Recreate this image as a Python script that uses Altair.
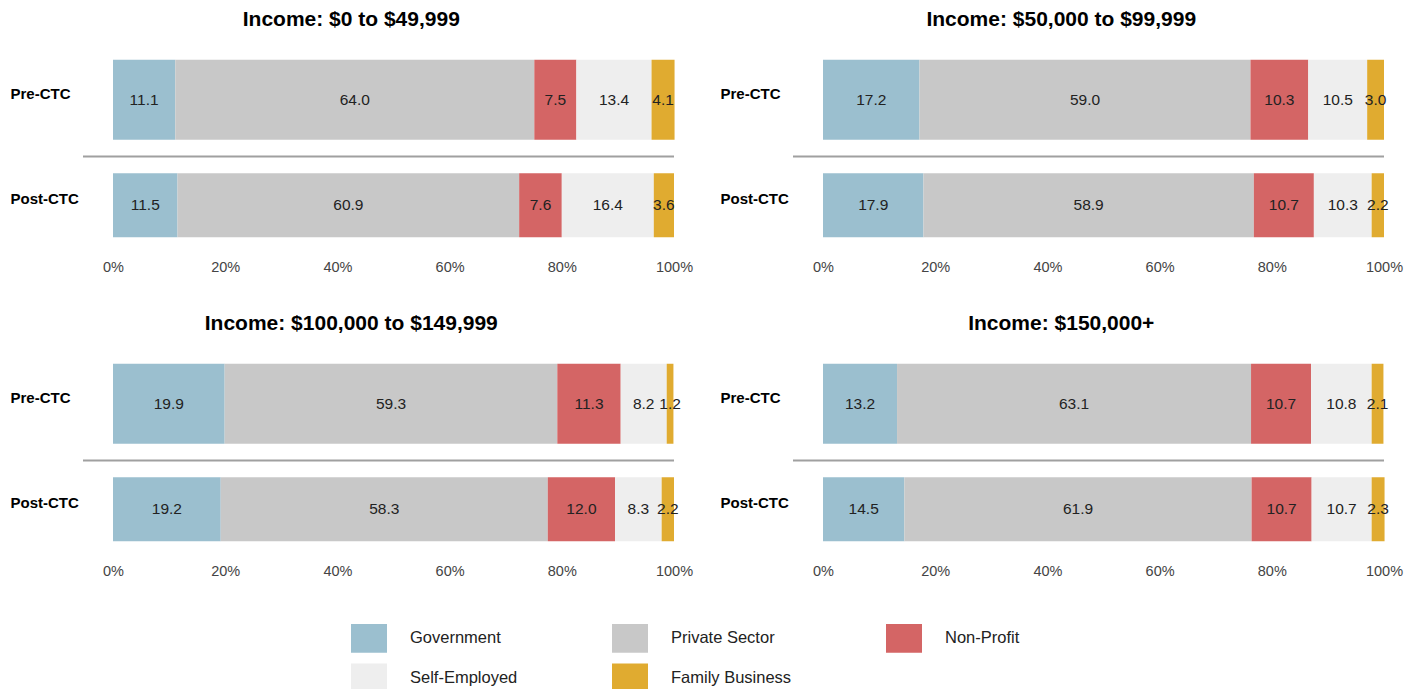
import altair as alt
import pandas as pd

incomes = [
    "Income: $0 to $49,999",
    "Income: $50,000 to $99,999",
    "Income: $100,000 to $149,999",
    "Income: $150,000+",
]
periods = ["Pre-CTC", "Post-CTC"]
sectors = ["Government", "Private Sector", "Non-Profit", "Self-Employed", "Family Business"]
colors = ["#9BBFCF", "#C8C8C8", "#D46565", "#EEEEEE", "#E0AB30"]

pre_0_49 = [11.1, 64.0, 7.5, 13.4, 4.1]
post_0_49 = [11.5, 60.9, 7.6, 16.4, 3.6]
pre_50_99 = [17.2, 59.0, 10.3, 10.5, 3.0]
post_50_99 = [17.9, 58.9, 10.7, 10.3, 2.2]
pre_100_149 = [19.9, 59.3, 11.3, 8.2, 1.2]
post_100_149 = [19.2, 58.3, 12.0, 8.3, 2.2]
pre_150 = [13.2, 63.1, 10.7, 10.8, 2.1]
post_150 = [14.5, 61.9, 10.7, 10.7, 2.3]

series = {
    incomes[0]: (pre_0_49, post_0_49),
    incomes[1]: (pre_50_99, post_50_99),
    incomes[2]: (pre_100_149, post_100_149),
    incomes[3]: (pre_150, post_150),
}

W = 561
H = 211
FONT = "Liberation Sans"


def panel(title):
    pre, post = series[title]
    rows = []
    for per, vals in zip(periods, (pre, post)):
        for i, (s, v) in enumerate(zip(sectors, vals)):
            rows.append({"period": per, "sector": s, "order": i, "value": v,
                         "label": f"{v:.1f}"})
    df = pd.DataFrame(rows)
    base = alt.Chart(df).transform_stack(
        stack="value", groupby=["period"], as_=["x0", "x1"],
        sort=[alt.SortField("order", order="ascending")],
    ).transform_calculate(xm="(datum.x0 + datum.x1) / 2")

    xscale = alt.Scale(domain=[0, 100], nice=False, zero=True)
    xaxis = alt.Axis(values=[0, 20, 40, 60, 80, 100], labelExpr="datum.value + '%'",
                     domain=False, ticks=False, grid=False, labelFontSize=14.5,
                     labelColor="#444444", labelPadding=2, labelFlush=False, title=None)
    yenc = alt.Y("period:N", sort=periods,
                 scale=alt.Scale(domain=periods, paddingInner=0, paddingOuter=0),
                 axis=alt.Axis(title=None, domain=False, ticks=False, tickSize=0,
                               labelAlign="left", labelPadding=103, labelFontSize=15,
                               labelFontWeight="bold", labelColor="#000000",
                               labelOffset=-6))
    color = alt.Color("sector:N", scale=alt.Scale(domain=sectors, range=colors),
                      legend=alt.Legend(title=None, orient="none", legendX=238, legendY=573,
                                        direction="horizontal", columns=3,
                                        symbolType="M-1,-0.8H1V0.8H-1Z",
                                        symbolSize=1296, symbolStrokeWidth=0,
                                        symbolOpacity=1,
                                        labelFontSize=16.5, labelColor="#222222",
                                        labelOffset=23, columnPadding=94, rowPadding=7,
                                        labelLimit=300))

    bars_pre = base.transform_filter(alt.datum.period == "Pre-CTC").mark_bar(size=80).encode(
        x=alt.X("x0:Q", scale=xscale, axis=xaxis), x2="x1:Q", y=yenc, color=color,
        order=alt.Order("order:Q"))
    bars_post = base.transform_filter(alt.datum.period == "Post-CTC").mark_bar(size=64).encode(
        x=alt.X("x0:Q", scale=xscale, axis=xaxis), x2="x1:Q", y=yenc, color=color,
        order=alt.Order("order:Q"))
    text = base.mark_text(fontSize=15.5, color="#222222", baseline="middle",
                          align="center").encode(
        x=alt.X("xm:Q", scale=xscale), y=alt.Y("period:N", sort=periods), text="label:N")
    rule = alt.Chart(pd.DataFrame({"sep": [0]})).mark_rule(
        color="#A0A0A0", strokeWidth=2).encode(
        x=alt.value(-30), x2=alt.value(W), y=alt.value(109.5))

    return alt.layer(bars_pre, bars_post, text, rule).properties(
        width=W, height=H,
        title=alt.TitleParams(title, fontSize=21, fontWeight="bold", anchor="middle",
                              frame="bounds", baseline="alphabetic", offset=0.5,
                              color="#000000"))


row1 = alt.hconcat(panel(incomes[0]), panel(incomes[1]), spacing=27)
row2 = alt.hconcat(panel(incomes[2]), panel(incomes[3]), spacing=27)
chart = alt.vconcat(row1, row2, spacing=38).properties(
    padding={"left": 2, "top": 0, "right": 5, "bottom": 5}
).configure(font=FONT).configure_view(stroke=None)

chart.save("out.html", embed_options={"renderer": "svg", "actions": False})
